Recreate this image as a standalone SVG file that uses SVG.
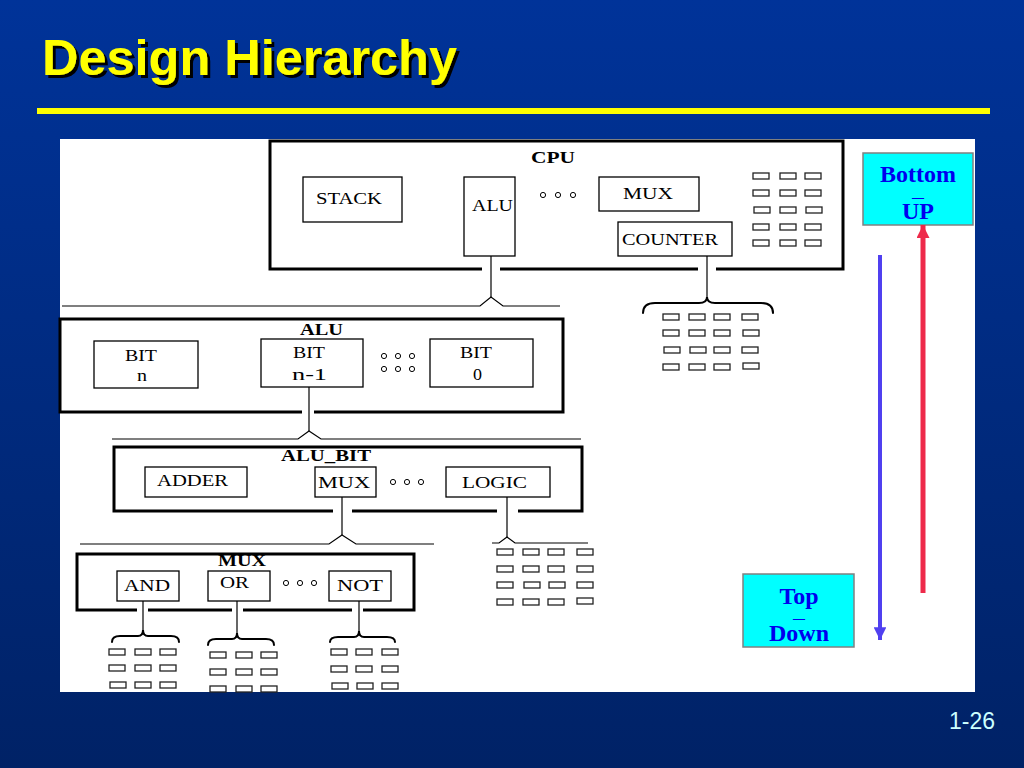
<svg xmlns="http://www.w3.org/2000/svg" xmlns:xlink="http://www.w3.org/1999/xlink" width="1024" height="768" viewBox="0 0 1024 768">
<defs>
<linearGradient id="bg" x1="0" y1="0" x2="0" y2="1">
<stop offset="0" stop-color="#003399"/>
<stop offset="1" stop-color="#002266"/>
</linearGradient>
<filter id="sh" x="-5%" y="-20%" width="115%" height="150%">
<feDropShadow dx="3" dy="3" stdDeviation="0.6" flood-color="#000" flood-opacity="1"/>
</filter>
<rect id="c" width="16" height="6" fill="#fff" stroke="#222" stroke-width="1.3"/>
<circle id="d" r="2.6" fill="#fff" stroke="#000" stroke-width="1"/>
<marker id="ahR" viewBox="0 0 10 10" refX="10" refY="5" markerWidth="2.6" markerHeight="2.6" orient="auto" markerUnits="strokeWidth">
<path d="M0,0 L10,5 L0,10 z" fill="#EE2A4A"/>
</marker>
<marker id="ahB" viewBox="0 0 10 10" refX="10" refY="5" markerWidth="3.4" markerHeight="3.2" orient="auto" markerUnits="strokeWidth">
<path d="M0,0 L10,5 L0,10 z" fill="#5040F0"/>
</marker>
</defs>
<style>
.t{font-family:"Liberation Serif","Times New Roman",serif;font-size:16px;fill:#000}
.b{font-family:"Liberation Serif","Times New Roman",serif;font-size:16px;font-weight:bold;fill:#000}
.box{fill:#fff;stroke:#000;stroke-width:1.3}
.cont{fill:none;stroke:#000;stroke-width:3}
.ln{fill:none;stroke:#000;stroke-width:1.2}
.br{fill:none;stroke:#000;stroke-width:2;stroke-linecap:round}
.cy{fill:#00FFFF;stroke:#808080;stroke-width:1.5}
.ct{font-family:"Liberation Serif","Times New Roman",serif;font-size:24px;font-weight:bold;fill:#0000EE;text-anchor:middle}
.dash{font-size:12px}
</style>
<rect x="0" y="0" width="1024" height="768" fill="url(#bg)"/>
<g id="title">
<text x="42" y="75" font-family="Liberation Sans, Arial, sans-serif" font-size="50" font-weight="bold" fill="#FFFF00" textLength="415" lengthAdjust="spacingAndGlyphs" filter="url(#sh)">Design Hierarchy</text>
<rect x="37" y="108" width="953" height="6" fill="#FFFF00"/>
</g>
<rect id="panel" x="60" y="139" width="915" height="553" fill="#fff"/>

<g id="cpu">
<path class="cont" d="M482,269 L270,269 L270,141 L843,141 L843,269 L716,269 M698,269 L500,269"/>
<text class="b" x="531" y="163" textLength="44" lengthAdjust="spacingAndGlyphs">CPU</text>
<rect class="box" x="303" y="177" width="99" height="45"/>
<text class="t" x="316" y="204" textLength="66" lengthAdjust="spacingAndGlyphs">STACK</text>
<rect class="box" x="464" y="177" width="51" height="79"/>
<text class="t" x="472" y="211" textLength="41" lengthAdjust="spacingAndGlyphs">ALU</text>
<use xlink:href="#d" x="543" y="195"/><use xlink:href="#d" x="558" y="195"/><use xlink:href="#d" x="573" y="195"/>
<rect class="box" x="599" y="177" width="100" height="34"/>
<text class="t" x="623" y="199" textLength="50" lengthAdjust="spacingAndGlyphs">MUX</text>
<rect class="box" x="618" y="222" width="114" height="34"/>
<text class="t" x="622" y="245" textLength="96" lengthAdjust="spacingAndGlyphs">COUNTER</text>
<g>
<use xlink:href="#c" x="753" y="173"/><use xlink:href="#c" x="780" y="173"/><use xlink:href="#c" x="805" y="173"/>
<use xlink:href="#c" x="753" y="190"/><use xlink:href="#c" x="780" y="190"/><use xlink:href="#c" x="805" y="190"/>
<use xlink:href="#c" x="754" y="207"/><use xlink:href="#c" x="780" y="207"/><use xlink:href="#c" x="806" y="207"/>
<use xlink:href="#c" x="753" y="224"/><use xlink:href="#c" x="780" y="224"/><use xlink:href="#c" x="805" y="224"/>
<use xlink:href="#c" x="753" y="240"/><use xlink:href="#c" x="780" y="240"/><use xlink:href="#c" x="805" y="240"/>
</g>
</g>

<g id="counter-cells">
<use xlink:href="#c" x="663" y="314"/><use xlink:href="#c" x="689" y="314"/><use xlink:href="#c" x="714" y="314"/><use xlink:href="#c" x="742" y="314"/>
<use xlink:href="#c" x="663" y="330"/><use xlink:href="#c" x="689" y="330"/><use xlink:href="#c" x="714" y="330"/><use xlink:href="#c" x="743" y="330"/>
<use xlink:href="#c" x="664" y="347"/><use xlink:href="#c" x="690" y="347"/><use xlink:href="#c" x="714" y="347"/><use xlink:href="#c" x="742" y="347"/>
<use xlink:href="#c" x="663" y="364"/><use xlink:href="#c" x="689" y="364"/><use xlink:href="#c" x="714" y="364"/><use xlink:href="#c" x="743" y="363"/>
</g>

<g id="alu">
<path class="cont" d="M302,412 L60,412 L60,319 L563,319 L563,412 L314,412"/>
<text class="b" x="300" y="335" textLength="43" lengthAdjust="spacingAndGlyphs">ALU</text>
<rect class="box" x="94" y="341" width="104" height="47"/>
<text class="t" x="125" y="361" textLength="32" lengthAdjust="spacingAndGlyphs">BIT</text>
<text class="t" x="137" y="381" textLength="10" lengthAdjust="spacingAndGlyphs">n</text>
<rect class="box" x="261" y="339" width="102" height="48"/>
<text class="t" x="293" y="358" textLength="32" lengthAdjust="spacingAndGlyphs">BIT</text>
<text class="t" x="292" y="380" textLength="35" lengthAdjust="spacingAndGlyphs">n-1</text>
<use xlink:href="#d" x="384" y="356"/><use xlink:href="#d" x="398" y="356"/><use xlink:href="#d" x="412" y="356"/>
<use xlink:href="#d" x="384" y="369"/><use xlink:href="#d" x="398" y="369"/><use xlink:href="#d" x="412" y="369"/>
<rect class="box" x="430" y="339" width="103" height="48"/>
<text class="t" x="460" y="358" textLength="32" lengthAdjust="spacingAndGlyphs">BIT</text>
<text class="t" x="473" y="380" textLength="9" lengthAdjust="spacingAndGlyphs">0</text>
</g>

<g id="alu_bit">
<path class="cont" d="M333,511 L114,511 L114,447 L582,447 L582,511 L518,511 M497,511 L352,511"/>
<text class="b" x="281" y="461" textLength="90" lengthAdjust="spacingAndGlyphs">ALU_BIT</text>
<rect class="box" x="145" y="467" width="102" height="30"/>
<text class="t" x="157" y="486" textLength="71" lengthAdjust="spacingAndGlyphs">ADDER</text>
<rect class="box" x="315" y="467" width="61" height="30"/>
<text class="t" x="318" y="488" textLength="52" lengthAdjust="spacingAndGlyphs">MUX</text>
<use xlink:href="#d" x="393" y="482"/><use xlink:href="#d" x="407" y="482"/><use xlink:href="#d" x="421" y="482"/>
<rect class="box" x="446" y="467" width="104" height="30"/>
<text class="t" x="462" y="488" textLength="65" lengthAdjust="spacingAndGlyphs">LOGIC</text>
</g>

<g id="logic-cells">
<use xlink:href="#c" x="497" y="549"/><use xlink:href="#c" x="523" y="549"/><use xlink:href="#c" x="548" y="549"/><use xlink:href="#c" x="577" y="549"/>
<use xlink:href="#c" x="497" y="566"/><use xlink:href="#c" x="523" y="566"/><use xlink:href="#c" x="548" y="566"/><use xlink:href="#c" x="577" y="566"/>
<use xlink:href="#c" x="497" y="582"/><use xlink:href="#c" x="524" y="582"/><use xlink:href="#c" x="549" y="582"/><use xlink:href="#c" x="577" y="582"/>
<use xlink:href="#c" x="497" y="599"/><use xlink:href="#c" x="523" y="599"/><use xlink:href="#c" x="548" y="599"/><use xlink:href="#c" x="577" y="598"/>
</g>

<g id="mux">
<path class="cont" d="M137,610 L77,610 L77,554 L414,554 L414,610 L363,610 M352,610 L243,610 M232,610 L148,610"/>
<text class="b" x="218" y="566" textLength="48" lengthAdjust="spacingAndGlyphs">MUX</text>
<rect class="box" x="117" y="571" width="62" height="30"/>
<text class="t" x="124" y="591" textLength="46" lengthAdjust="spacingAndGlyphs">AND</text>
<rect class="box" x="208" y="571" width="62" height="30"/>
<text class="t" x="220" y="588" textLength="29" lengthAdjust="spacingAndGlyphs">OR</text>
<use xlink:href="#d" x="286" y="583"/><use xlink:href="#d" x="300" y="583"/><use xlink:href="#d" x="314" y="583"/>
<rect class="box" x="329" y="571" width="62" height="30"/>
<text class="t" x="337" y="591" textLength="46" lengthAdjust="spacingAndGlyphs">NOT</text>
</g>

<g id="gate-cells">
<use xlink:href="#c" x="109" y="649"/><use xlink:href="#c" x="135" y="649"/><use xlink:href="#c" x="160" y="649"/>
<use xlink:href="#c" x="109" y="665"/><use xlink:href="#c" x="135" y="665"/><use xlink:href="#c" x="160" y="665"/>
<use xlink:href="#c" x="110" y="682"/><use xlink:href="#c" x="135" y="682"/><use xlink:href="#c" x="160" y="682"/>
<use xlink:href="#c" x="210" y="652"/><use xlink:href="#c" x="236" y="652"/><use xlink:href="#c" x="261" y="652"/>
<use xlink:href="#c" x="210" y="669"/><use xlink:href="#c" x="236" y="669"/><use xlink:href="#c" x="261" y="669"/>
<use xlink:href="#c" x="210" y="686"/><use xlink:href="#c" x="236" y="686"/><use xlink:href="#c" x="261" y="686"/>
<use xlink:href="#c" x="331" y="649"/><use xlink:href="#c" x="356" y="649"/><use xlink:href="#c" x="382" y="649"/>
<use xlink:href="#c" x="331" y="666"/><use xlink:href="#c" x="356" y="666"/><use xlink:href="#c" x="382" y="666"/>
<use xlink:href="#c" x="332" y="683"/><use xlink:href="#c" x="357" y="683"/><use xlink:href="#c" x="382" y="683"/>
</g>

<g id="bottom-up">
<rect class="cy" x="863" y="153" width="110" height="72"/>
<text class="ct"><tspan x="918" y="182">Bottom</tspan><tspan class="dash" x="918" y="201">—</tspan><tspan x="918" y="219">UP</tspan></text>
</g>
<g id="top-down">
<rect class="cy" x="743" y="574" width="111" height="73"/>
<text class="ct"><tspan x="799" y="604">Top</tspan><tspan class="dash" x="799" y="622">—</tspan><tspan x="799" y="641">Down</tspan></text>
</g>

<g id="connectors">
<path class="ln" d="M491,256 L491,297"/>
<path class="ln" d="M62,306 L480,306 L491,297 L503,306 L560,306"/>
<path class="ln" d="M707,256 L707,297"/>
<path class="br" stroke-width="3.5" d="M643,313 Q643,303 655,303 L699,303 Q707,303 707,297 Q707,303 715,303 L761,303 Q773,303 773,313"/>
<path class="ln" d="M309,387 L309,431"/>
<path class="ln" d="M112,439 L298,439 L309,431 L321,439 L581,439"/>
<path class="ln" d="M342,497 L342,535"/>
<path class="ln" d="M80,544 L329,544 L342,535 L356,544 L434,544"/>
<path class="ln" d="M507,497 L507,537"/>
<path class="ln" d="M492,543 L499,543 L507,537 L515,543 L588,543"/>
<path class="ln" d="M143,601 L143,630"/>
<path class="br" d="M112,642 Q112,636 120,636 L138,636 Q143,636 143,630 Q143,636 148,636 L171,636 Q179,636 179,642"/>
<path class="ln" d="M237,601 L237,633"/>
<path class="br" d="M208,645 Q208,639 216,639 L232,639 Q237,639 237,633 Q237,639 242,639 L266,639 Q274,639 274,645"/>
<path class="ln" d="M359,601 L359,631"/>
<path class="br" d="M330,642 Q330,637 338,637 L354,637 Q359,637 359,631 Q359,637 364,637 L387,637 Q395,637 395,642"/>
<line x1="923" y1="593" x2="923" y2="225" stroke="#EE2A4A" stroke-width="5" marker-end="url(#ahR)"/>
<line x1="880" y1="255" x2="880" y2="640" stroke="#5040F0" stroke-width="4" marker-end="url(#ahB)"/>
</g>

<text id="page" x="995" y="729" text-anchor="end" font-family="Liberation Sans, Arial, sans-serif" font-size="23" fill="#CCFFFF">1-26</text>
</svg>
